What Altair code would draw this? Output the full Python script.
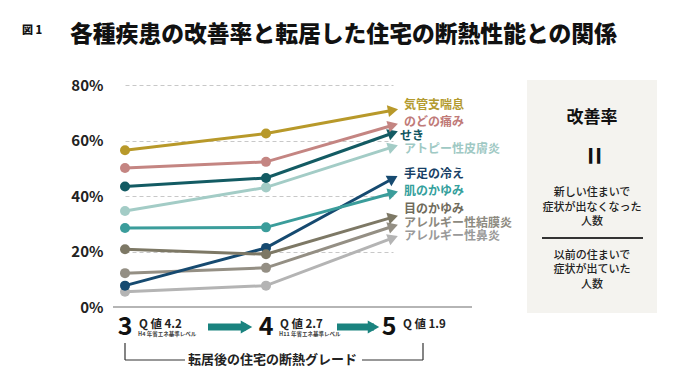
import math
import altair as alt
import pandas as pd

FONT = "Noto Sans CJK JP"

# ---------------- data ----------------
fig_label = "図 1"
title_text = "各種疾患の改善率と転居した住宅の断熱性能との関係"
diseases = ["気管支喘息", "のどの痛み", "せき", "アトピー性皮膚炎", "手足の冷え",
            "肌のかゆみ", "目のかゆみ", "アレルギー性結膜炎", "アレルギー性鼻炎"]
grade3 = [56.5, 50.1, 43.4, 34.6, 7.7, 28.5, 20.8, 12.2, 5.5]
grade4 = [62.5, 52.3, 46.5, 43.1, 21.3, 28.7, 19.0, 14.1, 7.7]
grade5 = [70.9, 65.5, 62.7, 57.7, 46.3, 41.1, 32.4, 29.1, 24.9]
grades = [3, 4, 5]
grade_q = ["Q 値 4.2", "Q 値 2.7", "Q 値 1.9"]
grade_std = ["H4 年省エネ基準レベル", "H11 年省エネ基準レベル", ""]
y_ticks = [0, 20, 40, 60, 80]
axis_title = "転居後の住宅の断熱グレード"
box_title = "改善率"
box_num = ["新しい住まいで", "症状が出なくなった", "人数"]
box_den = ["以前の住まいで", "症状が出ていた", "人数"]

# ---------------- styles / layout ----------------
line_colors = ["#b8992a", "#c48582", "#135b63", "#a3ccc6", "#164a70",
               "#3b9d9b", "#7d7865", "#948f84", "#b4b4b4"]
text_colors = ["#b39b30", "#c07a78", "#0f5560", "#9fc9c4", "#173f66",
               "#33a09c", "#6f6b5b", "#8d8a80", "#9a9a9a"]
draw_rank = [8, 7, 6, 5, 2, 4, 3, 1, 0]          # back (0) to front
label_dx = [11, 11, 7, 11, 11, 11, 11, 11, 11]    # px
label_dy = [-5.7, -2.8, 3.2, 2.6, -5.0, -1.7, -8.0, -3.5, -1.7]  # px, down positive
grade_label_dx = [0, 0, -4]                       # px

W, H = 359, 222
X_RANGE = [12, 153, 280]
PX_PER_PCT = H / 80.0
SEG_PX = X_RANGE[2] - X_RANGE[1]

rows = []
for i, d in enumerate(diseases):
    dy = (grade5[i] - grade4[i]) * PX_PER_PCT
    ang = (360 - math.degrees(math.atan2(dy, SEG_PX))) % 360
    for g, v in zip(grades, [grade3[i], grade4[i], grade5[i]]):
        rows.append({"disease": d, "grade": g, "value": v, "lcolor": line_colors[i],
                     "rank": draw_rank[i], "angle": ang})
df = pd.DataFrame(rows).sort_values(["rank", "grade"]).reset_index(drop=True)

lab = pd.DataFrame({
    "disease": diseases,
    "lx": [5 + dx / SEG_PX for dx in label_dx],
    "ly": [v - dy / PX_PER_PCT for v, dy in zip(grade5, label_dy)],
    "tcolor": text_colors,
})

gdf = pd.DataFrame({"gx": [g + dx / SEG_PX for g, dx in zip(grades, grade_label_dx)],
                    "gnum": [str(g) for g in grades],
                    "q": grade_q, "std": grade_std})

xscale = alt.Scale(domain=grades, range=X_RANGE, nice=False, zero=False)
yscale = alt.Scale(domain=[0, 80], nice=False, zero=False)
y_axis = alt.Axis(values=y_ticks, labelExpr="datum.value + '%'", grid=True,
                  gridDash=[4, 3], gridColor="#c8c8c8", gridWidth=1, domain=False,
                  ticks=False, labelFontSize=15, labelFontWeight="bold",
                  labelColor="#222222", labelPadding=10, labelFont=FONT, title=None)


def X(field):
    return alt.X(field, scale=xscale, axis=None)


def Y(field):
    return alt.Y(field, scale=yscale, axis=y_axis)


one = pd.DataFrame({"a": [0]})


def text_at(t, px, py, size, weight="bold", color="#222222", align="center",
            baseline="middle", angle=None):
    kw = dict(font=FONT, fontSize=size, fontWeight=weight, color=color,
              align=align, baseline=baseline)
    if angle is not None:
        kw["angle"] = angle
    return alt.Chart(pd.DataFrame({"t": [t]})).mark_text(**kw).encode(
        x=alt.value(px), y=alt.value(py), text="t:N")


def hrule(x1, x2, y, color, width):
    return alt.Chart(one).mark_rule(color=color, strokeWidth=width).encode(
        x=alt.value(x1), x2=alt.value(x2), y=alt.value(y))


def vrule(x, y1, y2, color, width):
    return alt.Chart(one).mark_rule(color=color, strokeWidth=width).encode(
        x=alt.value(x), y=alt.value(y1), y2=alt.value(y2))


baseline_rule = alt.Chart(pd.DataFrame({"value": [0]})).mark_rule(
    color="#b5b5b5", strokeWidth=2).encode(
    y=Y("value:Q"), x=alt.value(0), x2=alt.value(W))

lines = alt.Chart(df).mark_line(strokeWidth=3).encode(
    x=X("grade:Q"), y=Y("value:Q"), detail="disease:N",
    color=alt.Color("lcolor:N", scale=None), order="grade:Q")

dots = alt.Chart(df).transform_filter("datum.grade < 5").mark_circle(
    size=100, opacity=1).encode(
    x=X("grade:Q"), y=Y("value:Q"), color=alt.Color("lcolor:N", scale=None))

heads = alt.Chart(df).transform_filter("datum.grade == 5").mark_point(
    shape="triangle-right", filled=True, size=140, opacity=1).encode(
    x=X("grade:Q"), y=Y("value:Q"), color=alt.Color("lcolor:N", scale=None),
    angle=alt.Angle("angle:Q", scale=None))

labels = alt.Chart(lab).mark_text(
    align="left", baseline="middle", font=FONT, fontSize=12, fontWeight="bold").encode(
    x=X("lx:Q"), y=Y("ly:Q"), text="disease:N", color=alt.Color("tcolor:N", scale=None))

gnums = alt.Chart(gdf).mark_text(
    font=FONT, fontSize=25, fontWeight="bold", align="center", baseline="alphabetic",
    color="#111111").encode(x=X("gx:Q"), y=alt.value(250), text="gnum:N")
gq = alt.Chart(gdf).mark_text(
    font=FONT, fontSize=11.5, fontWeight="bold", align="left", baseline="middle",
    dx=14, color="#222222").encode(x=X("gx:Q"), y=alt.value(240), text="q:N")
gstd = alt.Chart(gdf).mark_text(
    font=FONT, fontSize=5.5, fontWeight="bold", align="left", baseline="middle",
    dx=13, color="#444444").encode(x=X("gx:Q"), y=alt.value(249), text="std:N")

TEAL = "#1a837f"
arrows = [
    hrule(95, 133, 242, TEAL, 7), hrule(224, 261, 242, TEAL, 7),
]
arrow_heads = [
    alt.Chart(one).mark_point(shape="triangle-right", filled=True, size=175,
                              opacity=1, color=TEAL).encode(x=alt.value(xx), y=alt.value(242))
    for xx in [133.5, 260.5]
]

bracket = [
    vrule(12, 258, 275, "#333333", 1.2), hrule(12, 72, 275, "#333333", 1.2),
    hrule(249, 310, 275, "#333333", 1.2), vrule(310, 258, 275, "#333333", 1.2),
    text_at(axis_title, 159.5, 275, 13),
]

box = alt.Chart(one).mark_rect(color="#f4f3ef").encode(
    x=alt.value(414), x2=alt.value(544), y=alt.value(-5), y2=alt.value(228))

BX = 479
box_texts = [
    text_at(box_title, BX, 33, 17, color="#111111"),
    text_at("=", BX, 71, 31, color="#111111", angle=90),
]
for t, yy in zip(box_num, [108, 123, 137]):
    box_texts.append(text_at(t, BX, yy, 11, weight=500, color="#222222"))
box_texts.append(hrule(429, 530, 153, "#333333", 2))
for t, yy in zip(box_den, [171, 185, 200]):
    box_texts.append(text_at(t, BX, yy, 11, weight=500, color="#222222"))

titles = [
    text_at(fig_label, -91, -54, 11, weight=900, align="left", color="#111111"),
    text_at(title_text, -43, -50, 22.8, weight=900, align="left", color="#111111"),
]

chart = alt.layer(
    box, baseline_rule, lines, dots, heads, labels, gnums, gq, gstd,
    *arrows, *arrow_heads, *bracket, *box_texts, *titles
).properties(
    width=W, height=H,
    padding={"left": 105, "top": 77, "right": 208, "bottom": 66},
    autosize=alt.AutoSizeParams(type="none"),
    background="white",
).configure_view(strokeWidth=0)

chart.save("out.html", embed_options={"renderer": "svg", "actions": False})
